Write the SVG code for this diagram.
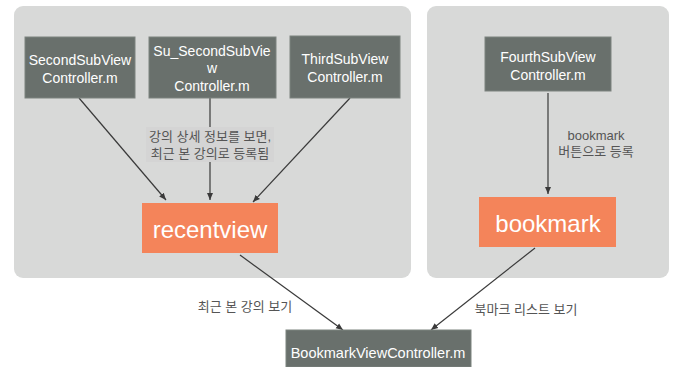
<svg xmlns="http://www.w3.org/2000/svg" width="675" height="367" viewBox="0 0 675 367">
  <defs>
    <style>
      .panel { fill: #d8d9d8; }
      .dark { fill: #69706c; stroke: #7d837f; stroke-width: 1; }
      .hot { fill: #f4845a; }
      .wt { fill: #ffffff; font-family: "Liberation Sans", Arial, sans-serif; text-anchor: middle; }
      .kr { fill: #555; font-family: "Liberation Sans", "Noto Sans CJK KR", sans-serif; font-size: 13px; text-anchor: middle; }
      .edge { stroke: #3a3a3a; stroke-width: 1.2; fill: none; marker-end: url(#ah); }
    </style>
    <marker id="ah" markerWidth="8" markerHeight="8" refX="7" refY="4" orient="auto" markerUnits="userSpaceOnUse">
      <path d="M0,1 L7,4 L0,7 Z" fill="#3a3a3a"/>
    </marker>
  </defs>

  <rect width="675" height="367" fill="#ffffff"/>

  <!-- grey panels -->
  <rect class="panel" x="14" y="6" width="397" height="272" rx="9"/>
  <rect class="panel" x="427" y="6" width="242" height="272" rx="9"/>

  <!-- connectors -->
  <g id="connectors">
    <line class="edge" x1="79" y1="98" x2="166" y2="200"/>
    <line class="edge" x1="210" y1="98" x2="210" y2="200"/>
    <line class="edge" x1="350" y1="98" x2="253" y2="202"/>
    <line class="edge" x1="548" y1="93" x2="548" y2="194"/>
    <line class="edge" x1="240" y1="255" x2="343" y2="330"/>
    <line class="edge" x1="535" y1="248" x2="431" y2="330"/>
    <rect x="146" y="127" width="128" height="35" fill="#d4d4d4"/>
    <text class="kr" x="210" y="141">강의 상세 정보를 보면,</text>
    <text class="kr" x="210" y="158">최근 본 강의로 등록됨</text>
    <text class="kr" x="596" y="140" font-size="12">bookmark</text>
    <text class="kr" x="596" y="156">버튼으로 등록</text>
    <text class="kr" x="245" y="311">최근 본 강의 보기</text>
    <text class="kr" x="526" y="314">북마크 리스트 보기</text>
  </g>

  <g id="second">
    <rect class="dark" x="25" y="37" width="110" height="61"/>
    <text class="wt" x="80" y="65" font-size="14">SecondSubView</text>
    <text class="wt" x="80" y="83" font-size="14">Controller.m</text>
  </g>
  <g id="su-second">
    <rect class="dark" x="149" y="37" width="127" height="61"/>
    <text class="wt" x="212" y="56" font-size="14">Su_SecondSubVie</text>
    <text class="wt" x="212" y="73" font-size="14">w</text>
    <text class="wt" x="212" y="91" font-size="14">Controller.m</text>
  </g>
  <g id="third">
    <rect class="dark" x="290" y="36" width="110" height="62"/>
    <text class="wt" x="345" y="64" font-size="14">ThirdSubView</text>
    <text class="wt" x="345" y="82" font-size="14">Controller.m</text>
  </g>
  <g id="fourth">
    <rect class="dark" x="485" y="37" width="126" height="54"/>
    <text class="wt" x="548" y="62" font-size="14">FourthSubView</text>
    <text class="wt" x="548" y="80" font-size="14">Controller.m</text>
  </g>
  <g id="recentview">
    <rect class="hot" x="142" y="203" width="136" height="50"/>
    <text class="wt" x="210" y="238" font-size="24">recentview</text>
  </g>
  <g id="bookmark">
    <rect class="hot" x="479" y="197" width="137" height="50"/>
    <text class="wt" x="548" y="232" font-size="24">bookmark</text>
  </g>
  <g id="bookmark-vc">
    <rect class="dark" x="286" y="330" width="185" height="37"/>
    <text class="wt" x="378" y="358" font-size="14.5">BookmarkViewController.m</text>
  </g>
</svg>
